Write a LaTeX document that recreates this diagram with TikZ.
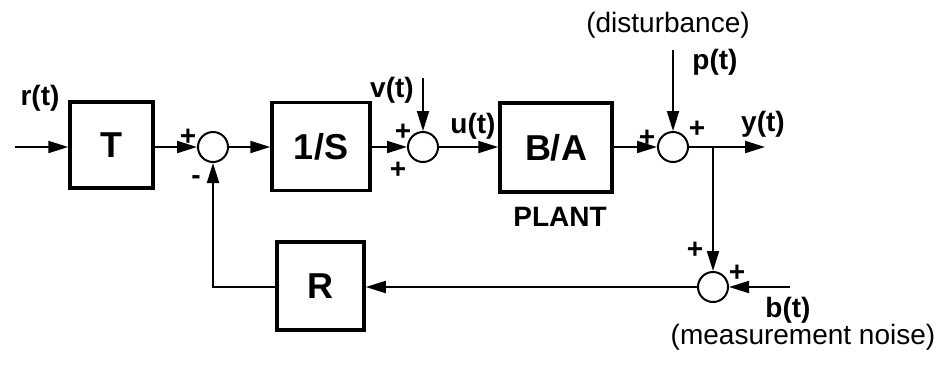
\documentclass[tikz,border=0pt]{standalone}
\usepackage{fontspec}
\setmainfont{Liberation Sans}
\usetikzlibrary{arrows.meta}
\begin{document}
\begin{tikzpicture}[x=1pt,y=-1pt,
  blk/.style={draw, line width=3.5pt, inner sep=0, font={\fontsize{36}{36}\selectfont\bfseries}},
  sumc/.style={draw, circle, line width=2pt, minimum size=30pt, inner sep=0},
  lbl/.style={font={\fontsize{28}{28}\selectfont\bfseries}, inner sep=0},
  nlbl/.style={font={\fontsize{28}{28}\selectfont}, inner sep=0},
  sig/.style={line width=2pt, -{Triangle[length=20pt,width=12pt]}}]
\useasboundingbox (0,0) rectangle (940,365);
% blocks
\node[blk, minimum width=83pt, minimum height=86pt] (T) at (111.5,145) {T};
\node[blk, minimum width=98pt, minimum height=88pt] (S) at (321,146.5) {1/S};
\node[blk, minimum width=112pt, minimum height=89pt] (P) at (556,147.5) {B/A};
\node[blk, minimum width=87pt, minimum height=88pt] (R) at (320.5,286) {R};
% summing junctions
\node[sumc] (s1) at (213,147) {};
\node[sumc] (s2) at (423,147) {};
\node[sumc] (s3) at (673,147) {};
\node[sumc] (s4) at (713,287) {};
% coordinates
\coordinate (rin) at (15,147);
\coordinate (vin) at (423,78);
\coordinate (pin) at (673,50);
\coordinate (br) at (713,147);
\coordinate (yout) at (765,147);
\coordinate (bin) at (790,287);
\coordinate (fbc) at (213,287);
% connectors
\draw[sig] (rin) -- (rin -| T.west);
\draw[sig] (T.east |- s1) -- (s1.west);
\draw[sig] (s1.east) -- (s1 -| S.west);
\draw[sig] (s1 -| S.east) -- (s2.west);
\draw[sig] (vin) -- (s2.north);
\draw[sig] (s2.east) -- (s2 -| P.west);
\draw[sig] (s2 -| P.east) -- (s3.west);
\draw[sig] (pin) -- (s3.north);
\draw[sig] (s3.east) -- (yout);
\draw[sig] (br) -- (s4.north);
\draw[sig] (bin) -- (s4.east);
\draw[sig] (s4.west) -- (s4 -| R.east);
\draw[sig] (s4 -| R.west) -- (fbc) -- (s1.south);
% labels
\node[lbl] (lr) at (40,98) {r(t)};
\node[lbl] (l1p) at (188,137) {+};
\node[lbl] (l1m) at (196,180) {-};
\node[lbl] (lv) at (392,90) {v(t)};
\node[lbl] (l2a) at (403,132) {+};
\node[lbl] (l2b) at (398,170) {+};
\node[lbl] (lu) at (473,126) {u(t)};
\node[lbl] (lplant) at (560,217) {PLANT};
\node[nlbl] (ldist) at (668,25) {(disturbance)};
\node[lbl] (lp) at (715,62) {p(t)};
\node[lbl] (l3a) at (647,138) {+};
\node[lbl] (l3b) at (697,129) {+};
\node[lbl] (ly) at (763,124) {y(t)};
\node[lbl] (l4a) at (695,250) {+};
\node[lbl] (l4b) at (737,273) {+};
\node[lbl] (lb) at (788,310) {b(t)};
\node[nlbl] (lnoise) at (803,337) {(measurement noise)};
\end{tikzpicture}
\end{document}
